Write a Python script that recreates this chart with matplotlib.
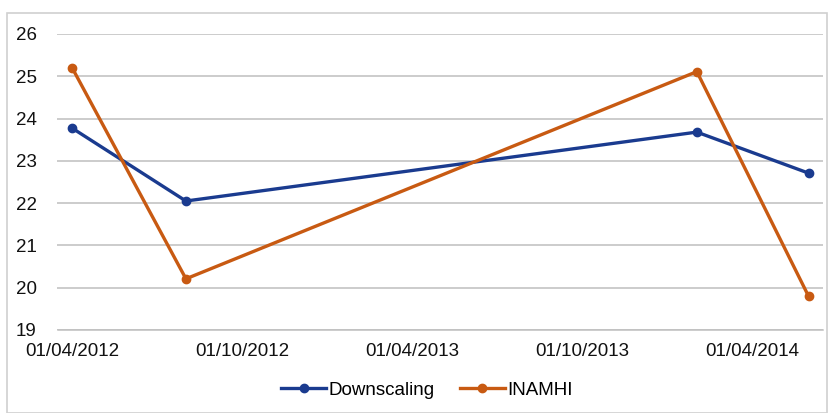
import matplotlib
matplotlib.use("Agg")
import matplotlib.pyplot as plt
import matplotlib.dates as mdates
from matplotlib.patches import Rectangle
import numpy as np

plt.rcParams['font.family'] = ['Liberation Sans', 'DejaVu Sans']

# data
dates = np.array(["2012-04-01", "2012-08-01", "2014-02-01", "2014-06-01"], dtype="datetime64[D]")
downscaling = [23.77, 22.05, 23.68, 22.71]
inamhi = [25.19, 20.21, 25.11, 19.80]
series_names = ["Downscaling", "INAMHI"]
blue = "#1a3b8f"
orange = "#c85a12"

W, H = 829, 413
fig = plt.figure(figsize=(W / 100, H / 100), dpi=100)

# thin grey frame around the chart area
fig.patches.append(Rectangle((7 / W, 0), (W - 9) / W, 1 - 13 / H, transform=fig.transFigure,
                             fill=False, edgecolor="#d0d0d0", linewidth=1.2))

ax = fig.add_axes([57.5 / W, 1 - 330 / H, (822.5 - 57.5) / W, (330 - 34) / H])

x = mdates.date2num(dates)
ax.plot(x, downscaling, color=blue, lw=2.4, marker="o", ms=6, label=series_names[0])
ax.plot(x, inamhi, color=orange, lw=2.4, marker="o", ms=6, label=series_names[1])

ax.set_ylim(19, 26)
ax.set_yticks(range(19, 27))
ax.set_xlim(mdates.date2num(np.datetime64("2012-03-16")), mdates.date2num(np.datetime64("2014-06-16")))
ax.xaxis.set_major_locator(mdates.MonthLocator(bymonth=[4, 10], bymonthday=1))
ax.xaxis.set_major_formatter(mdates.DateFormatter("%d/%m/%Y"))

ax.grid(axis="y", color="#bfbfbf", lw=1.1)
ax.set_axisbelow(True)
for s in ["top", "right", "left"]:
    ax.spines[s].set_visible(False)
ax.spines["bottom"].set_color("#bfbfbf")
ax.spines["bottom"].set_linewidth(1.1)
ax.tick_params(axis="both", length=0, labelsize=13.5, colors="#111111")
ax.tick_params(axis="y", pad=15)
ax.tick_params(axis="x", pad=9)

fig.legend(loc="center", bbox_to_anchor=(427 / W, 1 - 390 / H), ncol=2, frameon=False,
           fontsize=13.5, handlelength=2.4, handletextpad=0.15, columnspacing=1.3)

fig.savefig("out.png", dpi=100)
